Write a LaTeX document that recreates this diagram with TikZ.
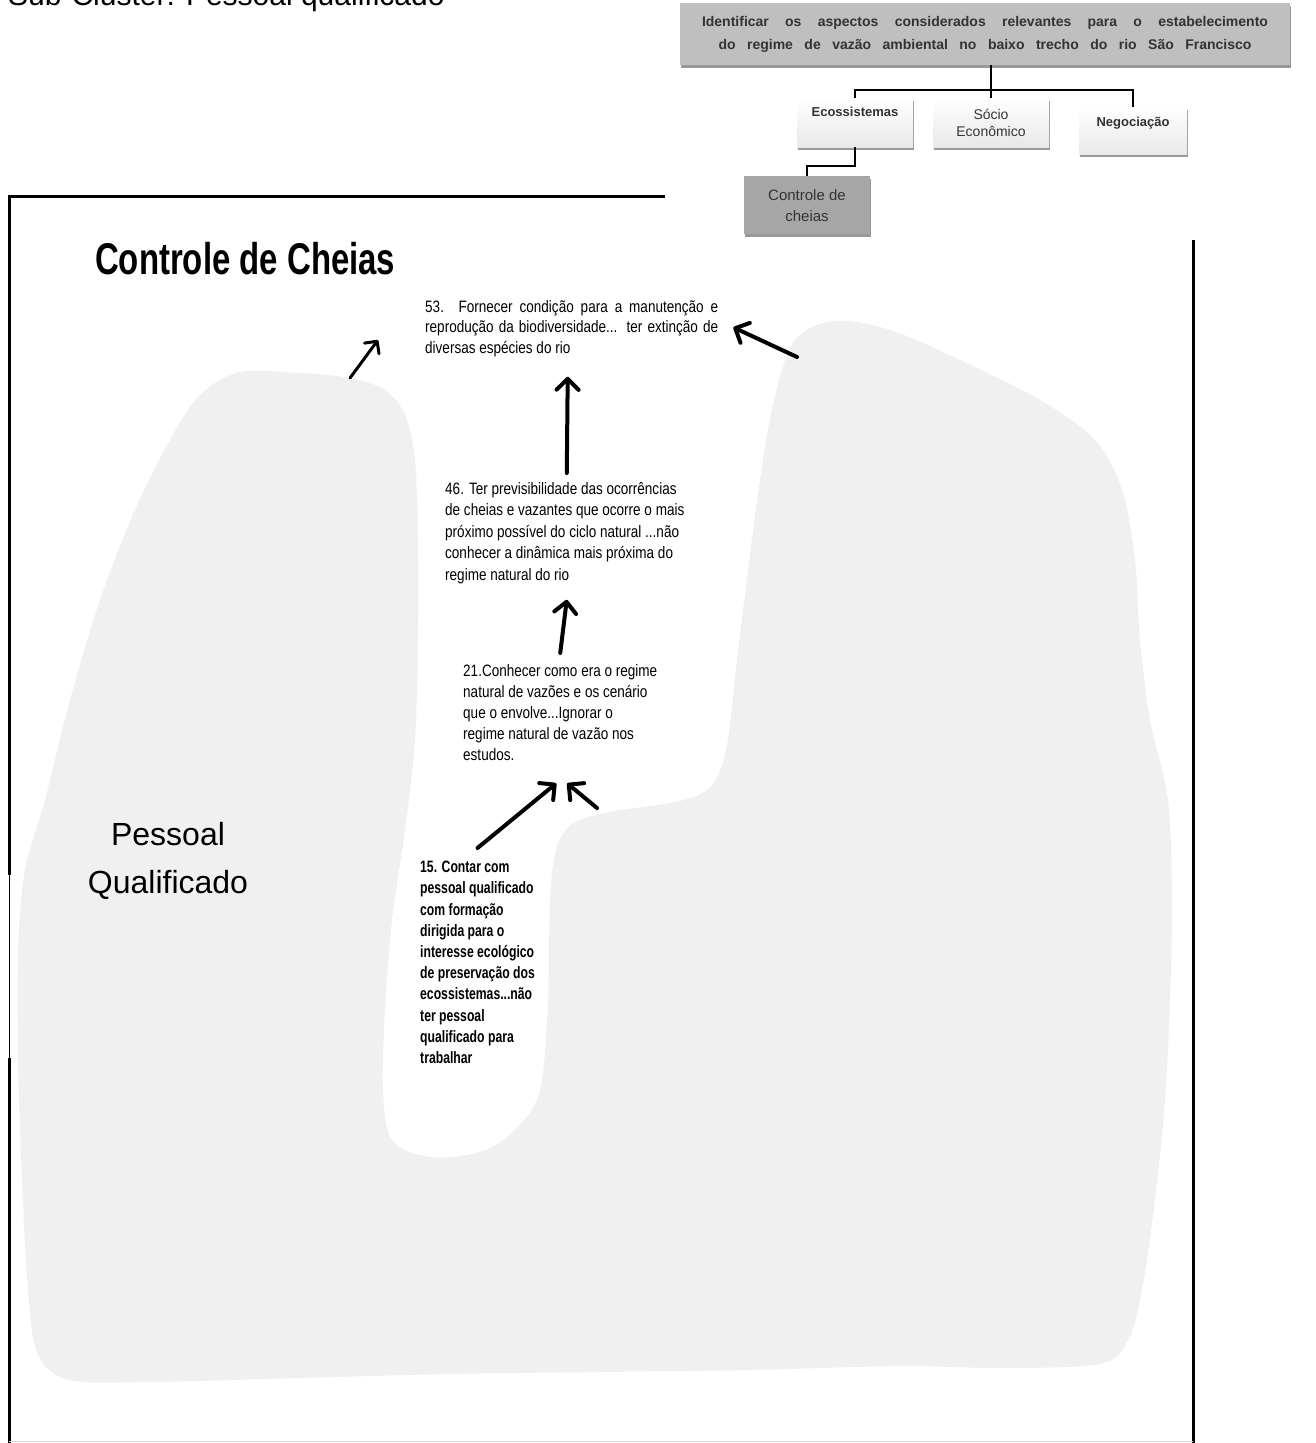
\documentclass[tikz,border=0pt]{standalone}
\usepackage{fontspec}
\setmainfont{Liberation Sans}
\newfontfamily\narrowfont[FakeStretch=0.82]{Liberation Sans}
\newfontfamily\condfont[FakeStretch=0.74]{Liberation Sans}
\usetikzlibrary{arrows.meta,calc,shadows}
\definecolor{blobgray}{RGB}{240,240,240}
\definecolor{boxgray}{RGB}{191,191,191}
\definecolor{darkbox}{RGB}{166,166,166}
\definecolor{htext}{RGB}{51,51,51}
\begin{document}
\begin{tikzpicture}[x=1pt,y=-1pt,
  arr/.style={line width=4pt,line cap=round,-{Straight Barb[length=11pt,width=22pt,line cap=round,line join=round]}},
  thinarr/.style={line width=3pt,line cap=round,-{Straight Barb[length=9pt,width=18pt,line cap=round,line join=round]}},
  frameline/.style={line width=3pt,black},
  conn/.style={line width=2pt,black},
  hbox/.style={draw=none,inner sep=0pt,text=htext,
    drop shadow={shadow xshift=0.5pt,shadow yshift=-3pt,opacity=0.4,fill=black}},
  lightbox/.style={hbox,top color=white,bottom color=gray!18},
  txt/.style={inner sep=0pt,anchor=north west,align=left},
  narrowtxt/.style={txt,font=\narrowfont\fontsize{16.5}{#1}\selectfont}
]
\clip (0,0) rectangle (1316,1443);
\fill[white] (0,0) rectangle (1316,1443);

% title cut by the top edge, as in the reference
\node[anchor=base west,inner sep=0pt,font=\fontsize{30}{36}\selectfont] (sub) at (8,5) {Sub-Cluster: Pessoal qualificado};

% background blob
\fill[blobgray] plot[smooth cycle,tension=0.55] coordinates {
 (240,372) (300,373) (350,378) (385,390) (405,415) (415,460) (418,540) (418,640)
 (415,740) (405,830) (392,920) (385,1010) (383,1090) (392,1140) (430,1157) (480,1152)
 (515,1130) (540,1090) (548,1000) (550,900) (556,850) (572,824) (610,812) (680,801)
 (712,785) (727,745) (737,660) (748,570) (760,480) (774,400) (795,340) (835,321)
 (890,330) (960,360) (1040,400) (1095,440) (1122,490) (1135,560) (1140,640) (1150,720)
 (1168,800) (1172,900) (1170,1000) (1165,1100) (1155,1200) (1142,1290) (1128,1340) (1100,1364)
 (1000,1368) (900,1366) (750,1370) (600,1372) (450,1374) (300,1378) (150,1382) (70,1380)
 (38,1355) (28,1290) (22,1180) (18,1060) (18,950) (25,870) (45,800) (70,700)
 (100,600) (135,510) (170,440) (200,395)};

% frame
\draw[frameline] (665,196) -- (9,196) -- (9,875);
\draw[line width=1pt] (9,875) -- (9,1058);
\draw[frameline] (9,1058) -- (9,1443);
\draw[frameline] (1193,240) -- (1193,1443);
\draw[gray!30,line width=1pt] (9,1441) -- (1193,1441);

% hierarchy at top right
\node[hbox,fill=boxgray,minimum width=610pt,minimum height=62pt,align=center,
  font=\bfseries\fontsize{14}{23}\selectfont] (top) at (985,34)
  {\makebox[566pt][s]{Identificar os aspectos considerados relevantes para o estabelecimento}\\
   \makebox[533pt][s]{do regime de vazão ambiental no baixo trecho do rio São Francisco}};
\node[lightbox,anchor=north,minimum width=116pt,text height=18pt,text depth=31pt,
  font=\bfseries\fontsize{13}{15}\selectfont] (eco) at (855,98) {Ecossistemas};
\node[lightbox,anchor=north,minimum width=116pt,minimum height=49pt,align=center,
  font=\fontsize{14}{17}\selectfont] (socio) at (991,98) {Sócio\\Econômico};
\node[lightbox,anchor=north,minimum width=108pt,text height=19pt,text depth=28pt,
  font=\bfseries\fontsize{13}{15}\selectfont] (neg) at (1133,107) {Negociação};
\node[hbox,fill=darkbox,anchor=north,minimum width=126pt,minimum height=58pt,align=center,
  font=\fontsize{15}{21}\selectfont] (ctrl) at (807,176) {Controle de\\cheias};

\coordinate (busy) at (0,90);
\coordinate (elbowy) at (0,166);
\draw[conn,line width=2.5pt] (top.south -| socio.north) -- (socio.north);
\draw[conn] (eco.north) -- (eco.north |- busy) -- (neg.north |- busy) -- (neg.north);
\draw[conn] (eco.south) -- (eco.south |- elbowy) -- (ctrl.north |- elbowy) -- (ctrl.north);

% headings
\node[anchor=base west,inner sep=0pt,font=\condfont\bfseries\fontsize{44.5}{50}\selectfont] (title) at (95,274) {Controle de Cheias};
\node[anchor=north,inner sep=0pt,align=center,font=\fontsize{32}{48}\selectfont] (pq) at (168,822) {Pessoal\\Qualificado};

% statements
\node[narrowtxt=20.5] (n53) at (425,300)
 {\makebox[293pt][s]{53. Fornecer condição para a manutenção e}\\
  \makebox[293pt][s]{reprodução da biodiversidade... ter extinção de}\\
  diversas espécies do rio};
\node[narrowtxt=21.5] (n46) at (445,482)
 {46. Ter previsibilidade das ocorrências\\
  de cheias e vazantes que ocorre o mais\\
  próximo possível do ciclo natural ...não\\
  conhecer a dinâmica mais próxima do\\
  regime natural do rio};
\node[narrowtxt=21.2] (n21) at (463,664)
 {21.Conhecer como era o regime\\
  natural de vazões e os cenário\\
  que o envolve...Ignorar o\\
  regime natural de vazão nos\\
  estudos.};
\node[txt,font=\condfont\bfseries\fontsize{16.5}{21.2}\selectfont] (n15) at (420,861)
 {15. Contar com\\
  pessoal qualificado\\
  com formação\\
  dirigida para o\\
  interesse ecológico\\
  de preservação dos\\
  ecossistemas...não\\
  ter pessoal\\
  qualificado para\\
  trabalhar};

% arrows
\coordinate (c1a) at (350,378);
\coordinate (c1b) at (378,340);
\draw[thinarr] (c1a) -- (c1b);
\coordinate (c2) at (797,357);
\draw[arr] (c2) -- ($(n53.east)+(15,-1)$);
\draw[arr] ($(n46.north)+(2,-9)$) -- ($(n53.south)+(-4,20)$);
\draw[arr] ($(n21.north)+(0,-11)$) -- ($(n46.south)+(2,16)$);
\draw[arr] ($(n15.north)+(0,-13)$) -- ($(n21.south)+(-4,22)$);
\coordinate (c6) at (597,808);
\draw[arr] (c6) -- ($(n21.south)+(7,22)$);
\end{tikzpicture}
\end{document}
